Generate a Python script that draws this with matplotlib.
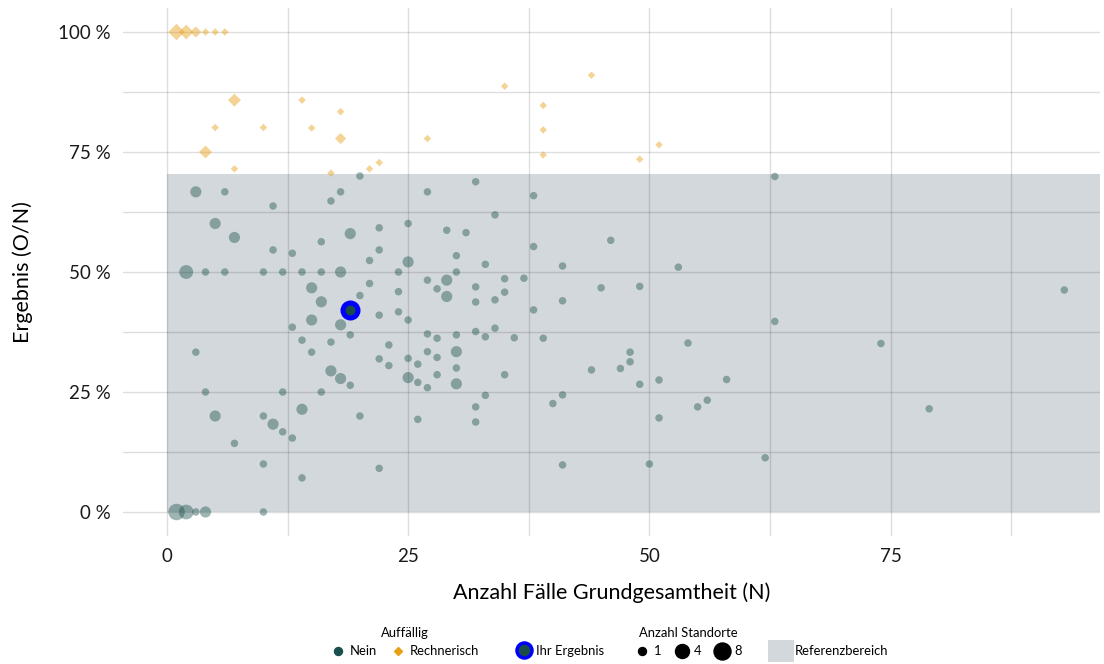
import numpy as np
import matplotlib.pyplot as plt
from matplotlib.lines import Line2D
from matplotlib.patches import Patch

plt.rcParams['font.family'] = ['Lato', 'DejaVu Sans']

# --- Daten ---
# Standorte ohne Auffälligkeit: Fälle N, Ergebnis in %, Anzahl Standorte
nein_n = [3, 6, 11, 20, 18, 17, 5, 7, 11, 13, 16, 19, 22, 25, 22, 21, 25,
          2, 4, 6, 10, 12, 14, 16, 18, 24, 15, 21, 24, 16, 20, 22, 24, 25, 15,
          18, 13, 19, 14, 17, 23, 3, 15, 22, 23, 25, 26, 17, 18, 19, 25, 26,
          4, 12, 16, 5, 10, 14, 20, 26, 11, 12, 13, 7, 10, 22, 14,
          1, 2, 3, 4, 10,
          27, 32, 38, 34, 29, 31, 46, 38, 30, 33, 41, 53, 30, 27, 29, 35, 37,
          28, 32, 35, 29, 45, 49, 32, 34, 41, 38, 27, 28, 30, 32, 33, 34, 36,
          39, 54, 27, 28, 30, 30, 28, 35, 27, 30, 44, 47, 48, 48, 49, 51, 33,
          32, 32, 40, 41, 51, 55, 41, 50, 63, 93, 63, 74, 58, 56, 79, 62]
nein_pct = [66.7, 66.7, 63.75, 70.0, 66.7, 64.8, 60.1, 57.2, 54.6, 53.9, 56.3,
            58.0, 59.2, 60.1, 54.6, 52.4, 52.1,
            50.0, 50.0, 50.0, 50.0, 50.0, 50.0, 50.0, 50.0, 50.0, 46.7, 47.6,
            45.9, 43.8, 45.1, 41.0, 41.7, 40.0, 40.0,
            39.0, 38.5, 36.9, 35.8, 35.4, 34.8, 33.3, 33.3, 31.9, 30.5, 32.0,
            30.8, 29.4, 27.8, 26.4, 28.0, 27.0,
            25.0, 25.0, 25.0, 20.0, 20.0, 21.4, 20.0, 19.3, 18.3, 16.7, 15.4,
            14.3, 10.0, 9.1, 7.1,
            0.0, 0.0, 0.0, 0.0, 0.0,
            66.7, 68.8, 65.9, 61.9, 58.7, 58.2, 56.6, 55.3, 53.4, 51.6, 51.25,
            51.0, 50.0, 48.3, 48.3, 48.6, 48.7,
            46.5, 46.9, 45.8, 44.9, 46.7, 47.0, 43.75, 44.2, 44.0, 42.1, 37.1,
            36.2, 36.9, 37.6, 36.5, 38.3, 36.3,
            36.2, 35.2, 33.4, 32.2, 33.4, 30.0, 28.6, 28.6, 25.9, 26.7, 29.6,
            29.9, 33.3, 31.3, 26.6, 27.5, 24.3,
            21.9, 18.75, 22.6, 24.4, 19.6, 21.9, 9.8, 10.0, 69.9, 46.25, 39.7,
            35.1, 27.6, 23.3, 21.5, 11.3]
nein_standorte = [3, 1, 1, 1, 1, 1, 3, 3, 1, 1, 1, 3, 1, 1, 1, 1, 3,
                  5, 1, 1, 1, 1, 1, 1, 3, 1, 3, 1, 1, 3, 1, 1, 1, 1, 3,
                  3, 1, 1, 1, 1, 1, 1, 1, 1, 1, 1, 1, 3, 3, 1, 3, 1,
                  1, 1, 1, 3, 1, 3, 1, 1, 3, 1, 1, 1, 1, 1, 1,
                  8, 6, 1, 3, 1,
                  1, 1, 1, 1, 1, 1, 1, 1, 1, 1, 1, 1, 1, 1, 3, 1, 1,
                  1, 1, 1, 3, 1, 1, 1, 1, 1, 1, 1, 1, 1, 1, 1, 1, 1,
                  1, 1, 1, 1, 3, 1, 1, 1, 1, 3, 1, 1, 1, 1, 1, 1, 1,
                  1, 1, 1, 1, 1, 1, 1, 1, 1, 1, 1, 1, 1, 1, 1, 1]

# rechnerisch auffällige Standorte
rech_n = [1, 2, 3, 4, 5, 6, 7, 14, 18, 5, 10, 15, 18, 4, 7, 17, 21, 22,
          35, 44, 27, 39, 39, 39, 49, 51]
rech_pct = [100, 100, 100, 100, 100, 100, 85.8, 85.8, 83.4, 80.1, 80.1, 80.0,
            77.8, 75.0, 71.5, 70.6, 71.5, 72.8,
            88.7, 91.0, 77.8, 84.7, 79.6, 74.4, 73.5, 76.5]
rech_standorte = [8, 6, 3, 1, 1, 1, 4, 1, 1, 1, 1, 1, 3, 4, 1, 1, 1, 1,
                  1, 1, 1, 1, 1, 1, 1, 1]

# eigenes Ergebnis
ihr_n = 19
ihr_pct = 42.1

# Referenzbereich
ref_bereich = (0, 70.4)

x_ticks = [0, 25, 50, 75]
y_ticks = [0, 25, 50, 75, 100]
legend_sizes = [1, 4, 8]

TEAL = '#19504b'
ORANGE = '#e8a017'
REF_GREY = '#d3d8dc'


def marker_px(count):
    """Durchmesser in Pixeln je Anzahl Standorte."""
    return np.interp(count, [1, 4, 8], [7.5, 13.0, 16.5])


def area_pt(count):
    return (marker_px(np.asarray(count, dtype=float)) * 0.72) ** 2


fig = plt.figure(figsize=(11.04, 6.64), dpi=100)
ax = fig.add_axes([123 / 1104, 1 - 536 / 664, 977 / 1104, 528 / 664])

ax.set_xlim(-4.55, 96.7)
ax.set_ylim(-5, 105)

# Referenzbereich als Band ab N = 0
ax.axhspan(ref_bereich[0], ref_bereich[1], xmin=(0 + 4.55) / 101.25, xmax=1,
           color=REF_GREY, zorder=0, lw=0)

# Gitter: halbtransparent, dadurch im Band dunkler
for v in np.arange(0, 101, 12.5):
    ax.axhline(v, color='black', alpha=0.13, lw=1.0, zorder=1)
for v in np.arange(0, 96, 12.5):
    ax.axvline(v, color='black', alpha=0.13, lw=1.0, zorder=1)

ax.scatter(nein_n, nein_pct, s=area_pt(nein_standorte), color=TEAL,
           alpha=0.42, linewidths=0, zorder=3)
# Rauten: Breite des Rhombus ~ Kreisdurchmesser
ax.scatter(rech_n, rech_pct, s=area_pt(rech_standorte) / 2.0, marker='D',
           color=ORANGE, alpha=0.45, linewidths=0, zorder=3)
ax.plot([ihr_n], [ihr_pct], marker='o', markersize=15 * 0.72,
        markerfacecolor='#1b4d48', markeredgecolor='#0000ff',
        markeredgewidth=5 * 0.72, linestyle='none', zorder=4)

for side in ax.spines.values():
    side.set_visible(False)
ax.tick_params(length=0, labelsize=13.5, colors='#1a1a1a', pad=9)
ax.set_xticks(x_ticks)
ax.set_yticks(y_ticks)
ax.set_yticklabels([f'{t} %' for t in y_ticks])
ax.set_xlabel('Anzahl Fälle Grundgesamtheit (N)', fontsize=15.5, labelpad=12)
ax.set_ylabel('Ergebnis (O/N)', fontsize=15.5, labelpad=18)

# --- Legende ---
leg_kw = dict(frameon=False, fontsize=9.4, title_fontsize=9.4,
              handletextpad=0.3, columnspacing=1.0, borderpad=0,
              handlelength=1.2)

auff_handles = [
    Line2D([], [], marker='o', ls='none', color=TEAL, markersize=8 * 0.72,
           label='Nein'),
    Line2D([], [], marker='D', ls='none', color=ORANGE, markersize=5.5 * 0.72,
           label='Rechnerisch'),
]
leg1 = fig.legend(handles=auff_handles, title='Auffällig', ncol=2,
                  loc='center', bbox_to_anchor=(405 / 1104, 1 - 642 / 664),
                  **leg_kw)

ihr_handle = [Line2D([], [], marker='o', ls='none', markersize=15 * 0.72,
                     markerfacecolor='#1b4d48', markeredgecolor='#0000ff',
                     markeredgewidth=3.5 * 0.72, label='Ihr Ergebnis')]
leg2 = fig.legend(handles=ihr_handle, ncol=1, loc='center',
                  bbox_to_anchor=(560 / 1104, 1 - 651 / 664), **leg_kw)

size_handles = [Line2D([], [], marker='o', ls='none', color='black',
                       markersize=np.interp(c, [1, 4, 8], [8, 14, 17]) * 0.72,
                       label=str(c))
                for c in legend_sizes]
leg3 = fig.legend(handles=size_handles, title='Anzahl Standorte', ncol=3,
                  loc='center', bbox_to_anchor=(688 / 1104, 1 - 642 / 664),
                  **leg_kw)

ref_handle = [Patch(facecolor=REF_GREY, edgecolor='none',
                    label='Referenzbereich')]
leg4 = fig.legend(handles=ref_handle, loc='center',
                  bbox_to_anchor=(828 / 1104, 1 - 651 / 664),
                  handleheight=2.2, handlelength=2.0, frameon=False,
                  fontsize=9.4, handletextpad=0.1, borderpad=0)

fig.savefig('out.png', dpi=100)
